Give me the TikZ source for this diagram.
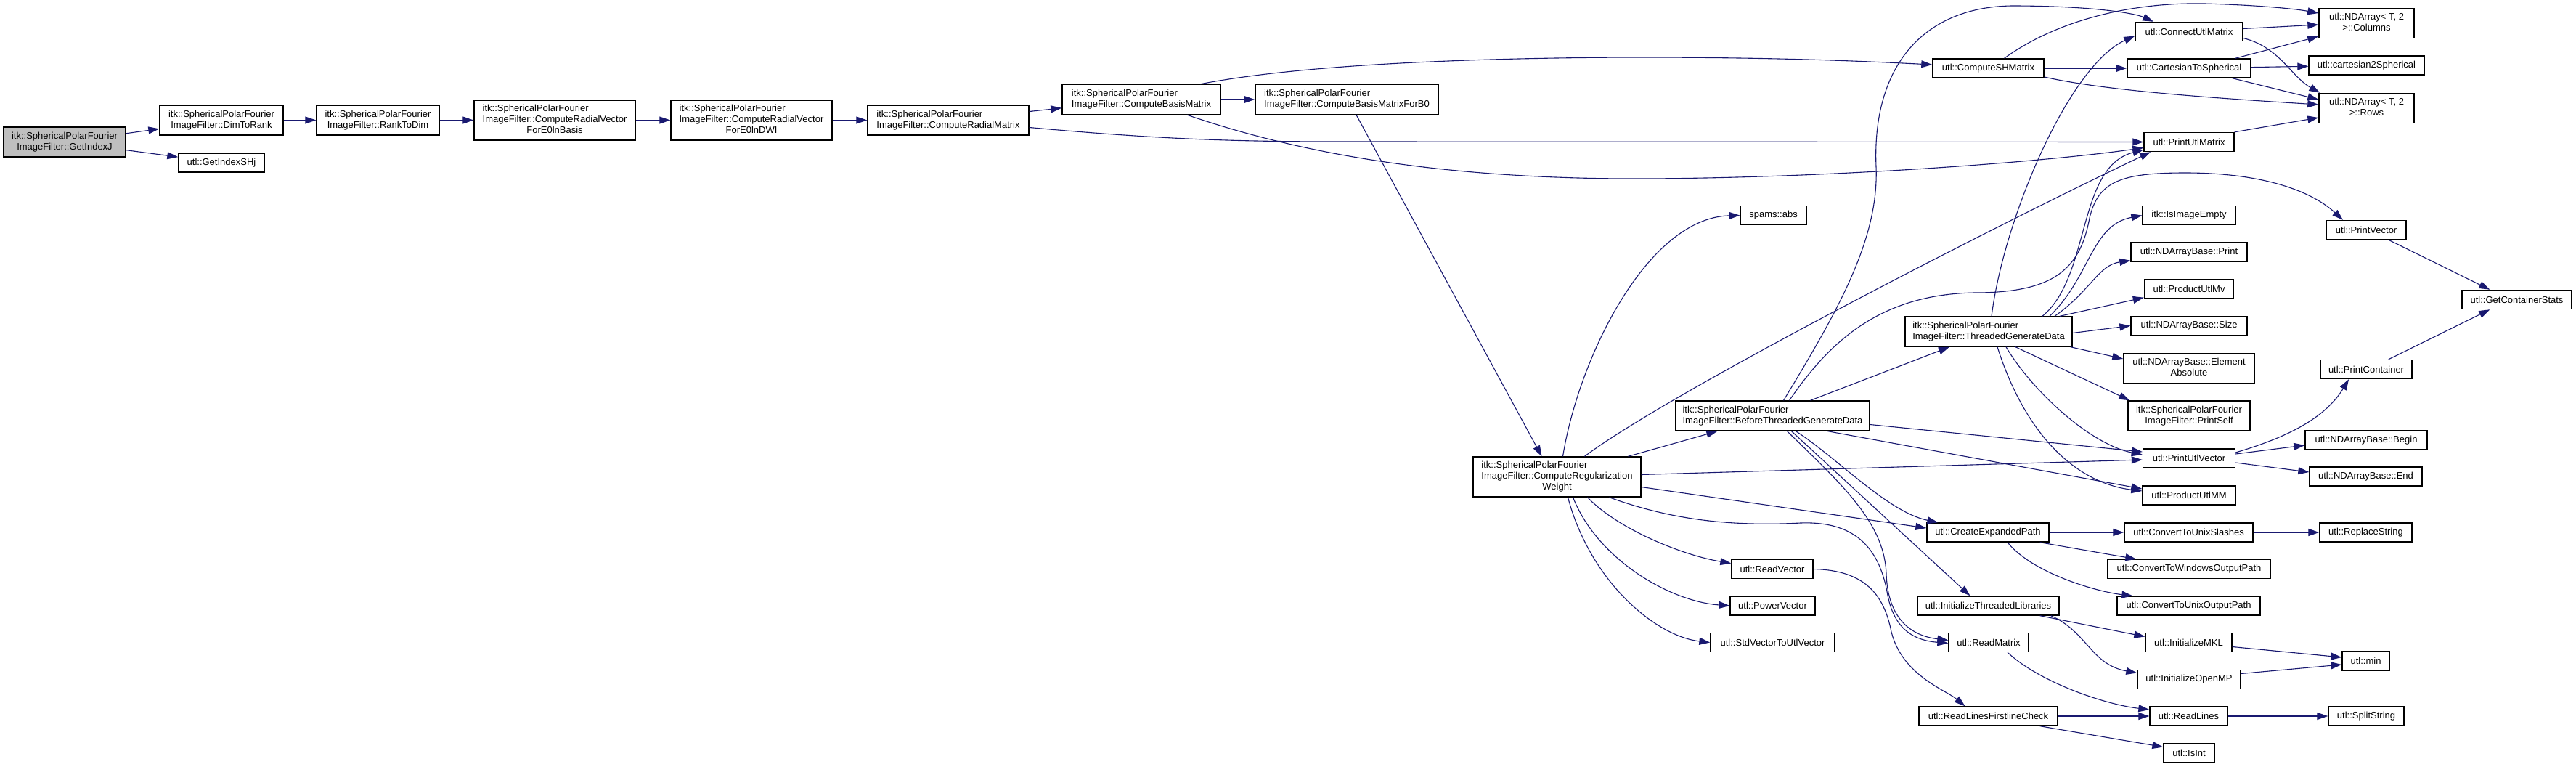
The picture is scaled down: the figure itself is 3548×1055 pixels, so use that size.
\documentclass[tikz,border=0pt]{standalone}
\usepackage{fontspec}
\setmainfont{Liberation Sans}
\usetikzlibrary{arrows.meta,calc}
\definecolor{edgec}{HTML}{191970}
\definecolor{rootfill}{HTML}{BFBFBF}
\newcommand{\twoln}[2]{\begin{tabular}{@{}l@{}}#1\\\multicolumn{1}{@{}c@{}}{#2}\end{tabular}}
\newcommand{\threeln}[3]{\begin{tabular}{@{}l@{}}#1\\#2\\\multicolumn{1}{@{}c@{}}{#3}\end{tabular}}
\tikzset{
  fn/.style={draw=black, line width=1.4pt, fill=white, inner sep=0pt, font=\fontsize{13}{15}\selectfont},
  sz/.style 2 args={minimum width=#1pt, minimum height=#2pt},
  call/.style={draw=edgec, line width=1.1pt, -{Triangle[length=15pt,width=10pt]}},
}
\begin{document}
\begin{tikzpicture}[x=1pt,y=-1pt]
\fill[white] (0,0) rectangle (3548,1055);
\useasboundingbox (0,0) rectangle (3548,1055);

% ---------- nodes ----------
\node[fn, sz={168}{41}, fill=rootfill] (gij) at (89,195.5) {\twoln{itk::SphericalPolarFourier}{ImageFilter::GetIndexJ}};
\node[fn, sz={170}{41}] (dtr) at (305,165.5) {\twoln{itk::SphericalPolarFourier}{ImageFilter::DimToRank}};
\node[fn, sz={118}{26}] (gish) at (305,224) {utl::GetIndexSHj};
\node[fn, sz={169}{41}] (rtd) at (520.5,165.5) {\twoln{itk::SphericalPolarFourier}{ImageFilter::RankToDim}};
\node[fn, sz={222}{55}] (crvb) at (764,165.5) {\threeln{itk::SphericalPolarFourier}{ImageFilter::ComputeRadialVector}{ForE0lnBasis}};
\node[fn, sz={222}{55}] (crvd) at (1035,165.5) {\threeln{itk::SphericalPolarFourier}{ImageFilter::ComputeRadialVector}{ForE0lnDWI}};
\node[fn, sz={222}{41}] (crm) at (1306,165.5) {\twoln{itk::SphericalPolarFourier}{ImageFilter::ComputeRadialMatrix}};
\node[fn, sz={218}{41}] (cbm) at (1572,137) {\twoln{itk::SphericalPolarFourier}{ImageFilter::ComputeBasisMatrix}};
\node[fn, sz={252}{41}] (cbmb0) at (1855,137) {\twoln{itk::SphericalPolarFourier}{ImageFilter::ComputeBasisMatrixForB0}};
\node[fn, sz={231}{55}] (crw) at (2144.5,656.5) {\threeln{itk::SphericalPolarFourier}{ImageFilter::ComputeRegularization}{Weight}};

\node[fn, sz={153}{26}] (csh) at (2738.5,94) {utl::ComputeSHMatrix};
\node[fn, sz={148}{26}] (cum) at (3015,43.5) {utl::ConnectUtlMatrix};
\node[fn, sz={170}{26}] (c2s) at (3015,94) {utl::CartesianToSpherical};
\node[fn, sz={131}{41}] (col) at (3259.5,32) {\twoln{utl::NDArray< T, 2}{>::Columns}};
\node[fn, sz={159}{26}] (cart) at (3259.5,90) {utl::cartesian2Spherical};
\node[fn, sz={131}{41}] (rows) at (3259.5,149) {\twoln{utl::NDArray< T, 2}{>::Rows}};
\node[fn, sz={124}{26}] (pum) at (3015,195.5) {utl::PrintUtlMatrix};

\node[fn, sz={91}{26}] (abs) at (2442.5,296.5) {spams::abs};
\node[fn, sz={128}{26}] (iie) at (3015,296.5) {itk::IsImageEmpty};
\node[fn, sz={160}{26}] (ndp) at (3015,347) {utl::NDArrayBase::Print};
\node[fn, sz={123}{26}] (pmv) at (3015,398) {utl::ProductUtlMv};
\node[fn, sz={160}{26}] (nds) at (3015,448.5) {utl::NDArrayBase::Size};
\node[fn, sz={180}{41}] (nde) at (3015,507) {\twoln{utl::NDArrayBase::Element}{Absolute}};
\node[fn, sz={168}{41}] (pself) at (3015,572.5) {\twoln{itk::SphericalPolarFourier}{ImageFilter::PrintSelf}};
\node[fn, sz={127}{26}] (puv) at (3015,631) {utl::PrintUtlVector};
\node[fn, sz={128}{26}] (pmm) at (3015,682) {utl::ProductUtlMM};

\node[fn, sz={110}{26}] (pv) at (3259,316.5) {utl::PrintVector};
\node[fn, sz={151}{26}] (gcs) at (3466.5,412.5) {utl::GetContainerStats};
\node[fn, sz={126}{26}] (pc) at (3259,508.5) {utl::PrintContainer};
\node[fn, sz={168}{26}] (ndb) at (3259,606) {utl::NDArrayBase::Begin};
\node[fn, sz={155}{26}] (ndend) at (3258.5,656) {utl::NDArrayBase::End};

\node[fn, sz={230}{41}] (tgd) at (2739,456.5) {\twoln{itk::SphericalPolarFourier}{ImageFilter::ThreadedGenerateData}};
\node[fn, sz={267}{41}] (btgd) at (2441.5,572.5) {\twoln{itk::SphericalPolarFourier}{ImageFilter::BeforeThreadedGenerateData}};

\node[fn, sz={168}{26}] (cep) at (2738,733) {utl::CreateExpandedPath};
\node[fn, sz={177}{26}] (cus) at (3014.5,733) {utl::ConvertToUnixSlashes};
\node[fn, sz={127}{26}] (rs) at (3258.5,733) {utl::ReplaceString};
\node[fn, sz={224}{26}] (cwo) at (3015,783.5) {utl::ConvertToWindowsOutputPath};
\node[fn, sz={112}{26}] (rv) at (2441,783.5) {utl::ReadVector};
\node[fn, sz={117}{26}] (pwv) at (2441.5,834) {utl::PowerVector};
\node[fn, sz={195}{26}] (itl) at (2738.5,834) {utl::InitializeThreadedLibraries};
\node[fn, sz={197}{26}] (cuo) at (3014.5,834) {utl::ConvertToUnixOutputPath};
\node[fn, sz={171}{26}] (svu) at (2441.5,884.5) {utl::StdVectorToUtlVector};
\node[fn, sz={110}{26}] (rm) at (2739,884.5) {utl::ReadMatrix};
\node[fn, sz={119}{26}] (imkl) at (3014.5,884.5) {utl::InitializeMKL};
\node[fn, sz={65}{26}] (umin) at (3258.5,910) {utl::min};
\node[fn, sz={142}{26}] (iomp) at (3015,935.5) {utl::InitializeOpenMP};
\node[fn, sz={191}{26}] (rlfc) at (2738.5,986) {utl::ReadLinesFirstlineCheck};
\node[fn, sz={107}{26}] (rl) at (3014.5,986) {utl::ReadLines};
\node[fn, sz={104}{26}] (ss) at (3259,986) {utl::SplitString};
\node[fn, sz={70}{26}] (isint) at (3015,1036.5) {utl::IsInt};

% ---------- edges ----------
\draw[call] (gij) -- (dtr);
\draw[call] (gij) -- (gish);
\draw[call] (dtr) -- (rtd);
\draw[call] (rtd) -- (crvb);
\draw[call] (crvb) -- (crvd);
\draw[call] (crvd) -- (crm);
\draw[call] (crm) -- (cbm);
\draw[call] ($(crm.east)+(0,10)$) .. controls (1600,192) and (1700,195) .. (1850,195) -- (pum.west);
\draw[call] (cbm) -- (cbmb0);
\draw[call] ($(cbm.north)+(81,0)$) .. controls (1760,95) and (1950,80) .. (2250,79) .. controls (2450,79) and (2560,84) .. ($(csh.west)+(0,-5)$);
\draw[call] ($(cbm.south)+(63,0)$) .. controls (1800,215) and (2000,246) .. (2250,246) .. controls (2500,246) and (2800,225) .. ($(pum.west)+(0,8)$);
\draw[call] ($(cbmb0.south)+(13,0)$) -- ($(crw.north)+(-21,0)$);

% from ComputeRegularizationWeight
\draw[call] ($(crw.north)+(8,0)$) .. controls (2175,490) and (2270,300) .. (abs.west);
\draw[call] ($(crw.north)+(38,0)$) .. controls (2300,540) and (2750,310) .. ($(pum.south west)+(10,0)$);
\draw[call] ($(crw.north)+(98,0)$) -- ($(btgd.south west)+(58,0)$);
\draw[call] ($(crw.east)+(0,-3)$) -- ($(puv.west)+(0,2)$);
\draw[call] ($(crw.east)+(0,14)$) -- ($(cep.west)+(0,-6)$);
\draw[call] ($(crw.south)+(72,0)$) .. controls (2300,715) and (2380,725) .. (2480,720) .. controls (2560,717) and (2590,760) .. (2600,820) .. controls (2610,870) and (2640,882) .. ($(rm.west)+(0,1)$);
\draw[call] ($(crw.south)+(42,0)$) .. controls (2230,730) and (2320,765) .. ($(rv.west)+(0,-8)$);
\draw[call] ($(crw.south)+(22,0)$) .. controls (2200,770) and (2300,828) .. (pwv.west);
\draw[call] ($(crw.south)+(15,0)$) .. controls (2190,800) and (2280,876) .. (svu.west);

% from BeforeThreadedGenerateData
\draw[call] ($(btgd.north)+(52,0)$) -- ($(tgd.south)+(-54,0)$);
\draw[call] ($(btgd.north)+(15,0)$) .. controls (2530,430) and (2588,330) .. (2584,230) .. controls (2578,90) and (2650,10) .. (2770,8) .. controls (2880,8) and (2940,18) .. ($(cum.north)+(-49,0)$);
\draw[call] ($(btgd.north)+(23,0)$) .. controls (2520,470) and (2590,405) .. (2720,403) .. controls (2830,403) and (2865,370) .. (2878,300) .. controls (2890,250) and (2920,238) .. (3010,238) .. controls (3110,238) and (3180,260) .. ($(pv.north)+(-32,0)$);
\draw[call] ($(btgd.east)+(0,12)$) -- ($(puv.west)+(0,-9)$);
\draw[call] ($(btgd.south)+(76,0)$) -- ($(pmm.west)+(0,-9)$);
\draw[call] ($(btgd.south)+(32,0)$) .. controls (2530,630) and (2600,705) .. ($(cep.north west)+(16,0)$);
\draw[call] ($(btgd.south)+(26,0)$) -- ($(itl.north)+(-25,0)$);
\draw[call] ($(btgd.south)+(20,0)$) .. controls (2540,670) and (2595,720) .. (2598,790) .. controls (2600,850) and (2630,875) .. ($(rm.west)+(0,-3)$);

% from ThreadedGenerateData
\draw[call] ($(tgd.north)+(4,0)$) .. controls (2760,300) and (2850,90) .. ($(cum.west)+(0,6)$);
\draw[call] ($(tgd.north)+(74,0)$) .. controls (2880,380) and (2860,230) .. ($(pum.south west)+(0,-3)$);
\draw[call] ($(tgd.north)+(84,0)$) .. controls (2880,380) and (2880,310) .. (iie.west);
\draw[call] ($(tgd.north)+(91,0)$) .. controls (2880,400) and (2890,365) .. ($(ndp.south west)+(0,-2)$);
\draw[call] ($(tgd.north)+(98,0)$) -- ($(pmv.south west)+(0,-2)$);
\draw[call] ($(tgd.east)+(0,2)$) -- (nds.west);
\draw[call] ($(tgd.south east)+(-3,0)$) -- ($(nde.west)+(0,-13)$);
\draw[call] ($(tgd.south)+(37,0)$) -- ($(pself.north west)+(3,0)$);
\draw[call] ($(tgd.south)+(24,0)$) .. controls (2800,540) and (2880,612) .. ($(puv.west)+(0,-5)$);
\draw[call] ($(tgd.south)+(12,0)$) .. controls (2790,600) and (2860,665) .. ($(pmm.west)+(0,-6)$);

% ComputeSHMatrix and friends
\draw[call] (csh) -- (c2s);
\draw[call] ($(csh.north)+(22,0)$) .. controls (2830,30) and (2930,3) .. (3036,5) .. controls (3110,7) and (3160,12) .. ($(col.west)+(0,-14)$);
\draw[call] ($(csh.east)+(0,12)$) .. controls (2900,125) and (3050,135) .. ($(rows.west)+(0,-5)$);
\draw[call] ($(cum.east)+(0,-4)$) -- ($(col.west)+(0,2)$);
\draw[call] ($(cum.east)+(0,9)$) .. controls (3140,65) and (3155,105) .. ($(rows.north west)+(2,0)$);
\draw[call] ($(c2s.north east)+(-22,0)$) -- ($(col.south west)+(0,-3)$);
\draw[call] (c2s) -- (cart);
\draw[call] ($(c2s.south east)+(-26,0)$) -- ($(rows.west)+(0,-12)$);
\draw[call] (pum.north east) -- ($(rows.west)+(0,13)$);
\draw[call] ($(pv.south east)+(-25,0)$) -- ($(gcs.north west)+(39,0)$);
\draw[call] ($(pc.north east)+(-33,0)$) -- ($(gcs.south west)+(39,0)$);
\draw[call] ($(puv.east)+(0,-8)$) .. controls (3140,605) and (3200,580) .. ($(pc.south)+(-24,0)$);
\draw[call] ($(puv.east)+(0,-6)$) -- ($(ndb.west)+(0,7)$);
\draw[call] ($(puv.east)+(0,6)$) -- ($(ndend.west)+(0,-6)$);

% lower part
\draw[call] (cep) -- (cus);
\draw[call] (cus) -- (rs);
\draw[call] ($(cep.south east)+(-13,0)$) -- ($(cwo.north west)+(40,0)$);
\draw[call] ($(cep.south)+(27,0)$) .. controls (2800,790) and (2890,815) .. ($(cuo.north west)+(22,0)$);
\draw[call] ($(itl.south east)+(-27,0)$) -- ($(imkl.west)+(0,-8)$);
\draw[call] ($(itl.south east)+(-12,0)$) .. controls (2875,870) and (2880,915) .. ($(iomp.west)+(0,-9)$);
\draw[call] ($(imkl.east)+(0,6)$) -- ($(umin.west)+(0,-5)$);
\draw[call] ($(iomp.east)+(0,-8)$) -- ($(umin.west)+(0,5)$);
\draw[call] ($(rm.south)+(26,0)$) .. controls (2810,940) and (2900,970) .. ($(rl.west)+(0,-9)$);
\draw[call] (rlfc) -- (rl);
\draw[call] ($(rlfc.south east)+(-25,0)$) -- ($(isint.west)+(0,-8)$);
\draw[call] (rl) -- (ss);
\draw[call] (rv.east) .. controls (2570,785) and (2595,820) .. (2605,870) .. controls (2620,930) and (2680,950) .. ($(rlfc.north)+(-32,0)$);
\end{tikzpicture}
\end{document}
